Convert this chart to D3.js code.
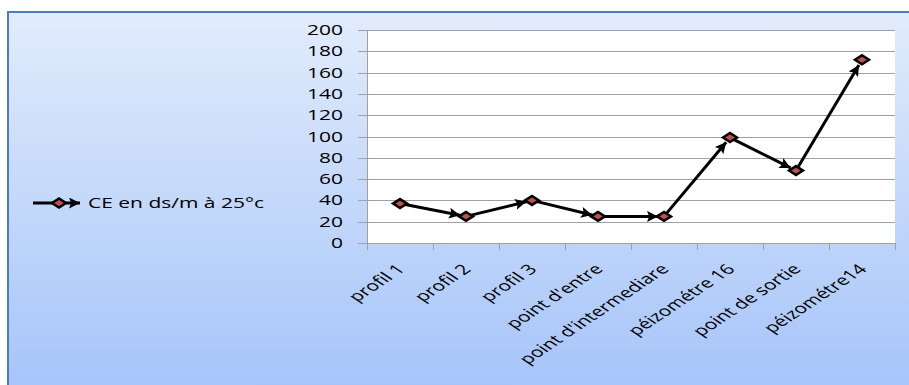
<!DOCTYPE html>
<html lang="fr">
    <head>
        <meta charset="utf-8">
        <title>CE</title>
        <script src="https://d3js.org/d3.v7.min.js" charset="utf-8"></script>
        <style>
            body {
              margin: 0;
              background: #ffffff;
            }
            text {
              font-family: "Open Sans", sans-serif;
              font-size: 14px;
              fill: #000000;
            }
        </style>
    </head>
    <body>
        <div id="chart"></div>
        <script type="text/javascript">
            // donnees
            var categories = ["profil 1", "profil 2", "profil 3", "point d'entre", "point d'intermediare", "péizométre 16", "point de sortie", "péizométre14"];
            var valeurs = [37, 25, 40, 25, 25, 99, 68, 172];
            var yTicks = [0, 20, 40, 60, 80, 100, 120, 140, 160, 180, 200];
            var serie = "CE en ds/m à 25°c";

            var width = 909, height = 385;
            var plot = { left: 367, right: 895, top: 30, bottom: 243 };
            var stretch = 1.5; // le graphique d'origine est etire horizontalement

            var svg = d3.select("#chart").append("svg")
                .attr("width", width)
                .attr("height", height);

            var defs = svg.append("defs");
            var grad = defs.append("linearGradient")
                .attr("id", "fond")
                .attr("x1", 0).attr("y1", 0).attr("x2", 0).attr("y2", 1);
            grad.append("stop").attr("offset", "0%").attr("stop-color", "#e2ecfc");
            grad.append("stop").attr("offset", "100%").attr("stop-color", "#a2c2f9");

            defs.append("marker")
                .attr("id", "fleche")
                .attr("viewBox", "0 0 10 10")
                .attr("refX", 10)
                .attr("refY", 5)
                .attr("markerUnits", "userSpaceOnUse")
                .attr("markerWidth", 13)
                .attr("markerHeight", 11)
                .attr("orient", "auto")
              .append("path")
                .attr("d", "M0,0 L10,5 L0,10 L2,5 z")
                .style("fill", "#000");

            // panneau de fond
            svg.append("rect")
                .attr("x", 8)
                .attr("y", 12)
                .attr("width", 920)
                .attr("height", 400)
                .style("fill", "url(#fond)")
                .style("stroke", "#4a7ebb")
                .style("stroke-width", 2);

            // zone de trace
            svg.append("rect")
                .attr("x", plot.left)
                .attr("y", plot.top)
                .attr("width", plot.right - plot.left)
                .attr("height", plot.bottom - plot.top)
                .style("fill", "#ffffff");

            var xScale = d3.scaleBand()
                .domain(categories)
                .range([plot.left, plot.right]);

            var yScale = d3.scaleLinear()
                .domain([0, 200])
                .range([plot.bottom, plot.top]);

            // grille
            svg.append("g")
                .selectAll("line")
                .data(yTicks)
                .enter()
                .append("line")
                .attr("x1", plot.left - 9)
                .attr("x2", plot.right)
                .attr("y1", function(d) { return Math.round(yScale(d)) + 0.5; })
                .attr("y2", function(d) { return Math.round(yScale(d)) + 0.5; })
                .style("stroke", "#a0a0a0")
                .style("stroke-width", 1);

            // axe y
            svg.append("line")
                .attr("x1", plot.left + 0.5).attr("x2", plot.left + 0.5)
                .attr("y1", plot.top).attr("y2", plot.bottom + 7)
                .style("stroke", "#a0a0a0");

            svg.append("g")
                .selectAll("text")
                .data(yTicks)
                .enter()
                .append("text")
                .attr("transform", function(d) {
                    return "translate(343," + (yScale(d) + 5) + ") scale(" + stretch + ",1)";
                })
                .style("text-anchor", "end")
                .text(function(d) { return d; });

            // axe x
            var xTicks = categories.map(function(d) { return xScale(d); }).concat([plot.right]);
            svg.append("g")
                .selectAll("line")
                .data(xTicks)
                .enter()
                .append("line")
                .attr("x1", function(d) { return Math.round(d) + 0.5; })
                .attr("x2", function(d) { return Math.round(d) + 0.5; })
                .attr("y1", plot.bottom)
                .attr("y2", plot.bottom + 7)
                .style("stroke", "#a0a0a0");

            svg.append("g")
                .selectAll("text")
                .data(categories)
                .enter()
                .append("text")
                .attr("transform", function(d) {
                    var cx = xScale(d) + xScale.bandwidth() / 2;
                    return "translate(" + (cx + 6) + "," + (plot.bottom + 27) + ") scale(" + stretch + ",1) rotate(-45)";
                })
                .style("text-anchor", "end")
                .text(function(d) { return d; });

            // ligne avec fleches
            var points = categories.map(function(c, i) {
                return [xScale(c) + xScale.bandwidth() / 2, yScale(valeurs[i])];
            });

            function recul(d, k) {
                var dx = d[1][0] - d[0][0], dy = d[1][1] - d[0][1], l = Math.sqrt(dx * dx + dy * dy);
                return [d[1][0] - dx / l * k, d[1][1] - dy / l * k];
            }

            svg.append("g")
                .selectAll("line")
                .data(d3.pairs(points))
                .enter()
                .append("line")
                .attr("x1", function(d) { return d[0][0]; })
                .attr("y1", function(d) { return d[0][1]; })
                .attr("x2", function(d) { return recul(d, 6)[0]; })
                .attr("y2", function(d) { return recul(d, 6)[1]; })
                .style("stroke", "#000")
                .style("stroke-width", 3)
                .attr("marker-end", "url(#fleche)");

            // losanges
            var losange = "M-7,0 L0,-4.5 L7,0 L0,4.5 z";
            svg.append("g")
                .selectAll("path")
                .data(points)
                .enter()
                .append("path")
                .attr("transform", function(d) { return "translate(" + d[0] + "," + d[1] + ")"; })
                .attr("d", losange)
                .style("fill", "#c0504d")
                .style("stroke", "#000")
                .style("stroke-width", 2.5);

            // legende
            var leg = svg.append("g").attr("transform", "translate(0,203)");
            leg.append("line")
                .attr("x1", 33).attr("x2", 80)
                .attr("y1", 0).attr("y2", 0)
                .style("stroke", "#000")
                .style("stroke-width", 3)
                .attr("marker-end", "url(#fleche)");
            leg.append("path")
                .attr("transform", "translate(59,0)")
                .attr("d", losange)
                .style("fill", "#c0504d")
                .style("stroke", "#000")
                .style("stroke-width", 2.5);
            leg.append("text")
                .attr("transform", "translate(88,5) scale(" + stretch + ",1)")
                .text(serie);
        </script>
    </body>
</html>
